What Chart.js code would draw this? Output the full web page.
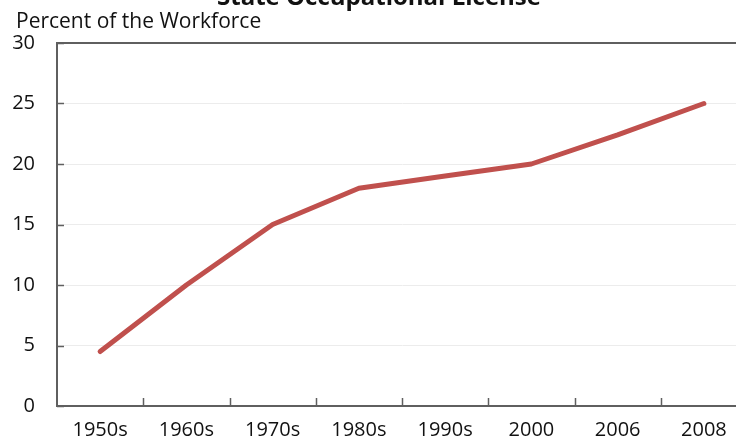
<!DOCTYPE html>
<html>
<head>
<meta charset="utf-8">
<script src="https://cdn.jsdelivr.net/npm/chart.js@4/dist/chart.umd.min.js"></script>
<style>
    html, body { margin: 0; padding: 0; background: #fff; overflow: hidden; }
    #wrap { position: relative; width: 760px; height: 440px; }
</style>
</head>
<body>
<div id="wrap"><canvas id="licenseChart"></canvas></div>
<script>
// values
var decades = ['1950s', '1960s', '1970s', '1980s', '1990s', '2000', '2006', '2008'];
var licensedShare = [4.5, 10, 15, 18, 19, 20, 22.4, 25];
var yTicks = [0, 5, 10, 15, 20, 25, 30];

var chartTitle = 'State Occupational License';
var yAxisTitle = 'Percent of the Workforce';
var FONT = '"Open Sans", Lato, sans-serif';

// title (clipped at the top), axis caption, top border and inward tick marks
var decorPlugin = {
    id: 'decor',
    afterDraw: function (chart) {
        var ctx = chart.ctx;
        var area = chart.chartArea;
        var xs = chart.scales.x;
        var ys = chart.scales.y;
        ctx.save();

        ctx.strokeStyle = '#5f5f5f';
        ctx.lineWidth = 2;
        ctx.beginPath();
        ctx.moveTo(area.left - 1, area.top);
        ctx.lineTo(area.right, area.top);
        ctx.stroke();

        ctx.lineWidth = 1.5;
        ctx.beginPath();
        yTicks.forEach(function (v) {
            var py = Math.round(ys.getPixelForValue(v)) + 0.5;
            ctx.moveTo(area.left, py);
            ctx.lineTo(area.left + 7, py);
        });
        for (var i = 0; i < decades.length; i++) {
            var px = (xs.getPixelForValue(i) + xs.getPixelForValue(i + 1)) / 2;
            px = Math.round(px) + 0.5;
            ctx.moveTo(px, area.bottom);
            ctx.lineTo(px, area.bottom - 8);
        }
        ctx.stroke();

        ctx.fillStyle = '#111';
        ctx.textBaseline = 'alphabetic';
        ctx.textAlign = 'center';
        ctx.font = 'bold 24px ' + FONT;
        ctx.fillText(chartTitle, 379, 5);

        ctx.textAlign = 'left';
        ctx.font = '21px ' + FONT;
        ctx.fillText(yAxisTitle, 16, 28);
        ctx.restore();
    }
};

document.addEventListener('DOMContentLoaded', function () {
    var ctx = document.getElementById('licenseChart').getContext('2d');
    new Chart(ctx, {
        type: 'line',
        data: {
            labels: decades,
            datasets: [
                {
                    label: 'Licensed workers',
                    data: licensedShare,
                    borderColor: '#c0504d',
                    borderWidth: 5,
                    borderCapStyle: 'round',
                    borderJoinStyle: 'round',
                    pointRadius: 0,
                    tension: 0,
                    fill: false
                }
            ]
        },
        options: {
            responsive: true,
            maintainAspectRatio: false,
            animation: false,
            layout: { padding: { top: 43, right: 13, left: 0, bottom: 0 } },
            plugins: { legend: { display: false }, tooltip: { enabled: false } },
            scales: {
                x: {
                    offset: true,
                    grid: { display: false, drawTicks: false },
                    border: { color: '#5f5f5f', width: 2 },
                    ticks: { color: '#111', font: { family: FONT, size: 20 }, padding: 12, maxRotation: 0, autoSkip: false },
                    afterFit: function (scale) { scale.height = 34; }
                },
                y: {
                    min: 0,
                    max: 30,
                    afterBuildTicks: function (scale) {
                        scale.ticks = yTicks.map(function (v) { return { value: v }; });
                    },
                    grid: { color: '#ececec', lineWidth: 1, drawTicks: false },
                    border: { color: '#5f5f5f', width: 2 },
                    ticks: { color: '#111', font: { family: FONT, size: 20 }, padding: 22 },
                    afterFit: function (scale) { scale.width = 57; }
                }
            }
        },
        plugins: [decorPlugin]
    });
});
</script>
</body>
</html>
